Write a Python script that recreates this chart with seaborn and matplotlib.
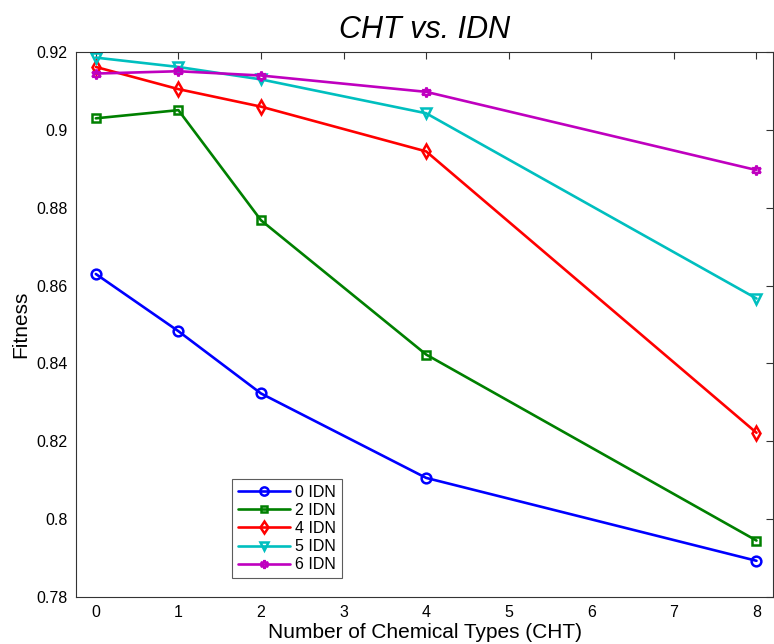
import matplotlib
matplotlib.use("Agg")
import matplotlib.pyplot as plt
import seaborn as sns

cht = [0, 1, 2, 4, 8]
idn_labels = ["0 IDN", "2 IDN", "4 IDN", "5 IDN", "6 IDN"]
fit_0 = [0.8630, 0.8483, 0.8323, 0.8106, 0.7893]
fit_2 = [0.9030, 0.9051, 0.8768, 0.8423, 0.7945]
fit_4 = [0.9162, 0.9105, 0.9060, 0.8945, 0.8222]
fit_5 = [0.9186, 0.9162, 0.9130, 0.9043, 0.8567]
fit_6 = [0.9145, 0.9151, 0.9140, 0.9098, 0.8897]

colors = [(0, 0, 1), (0, 0.5, 0), (1, 0, 0), (0, 0.75, 0.75), (0.75, 0, 0.75)]
markers = ["o", "s", "d", "v", (6, 1, 0)]
msizes = [7, 5.5, 7.5, 7.5, 7]

sns.set_style("white")
plt.rcParams["font.family"] = ["Liberation Sans", "DejaVu Sans"]
plt.rcParams["text.color"] = "black"
plt.rcParams["axes.labelcolor"] = "black"

fig = plt.figure(figsize=(7.74, 6.44), dpi=100)
ax = fig.add_axes([0.0982, 0.073, 0.9005, 0.846])

for vals, lab, c, m, ms in zip([fit_0, fit_2, fit_4, fit_5, fit_6], idn_labels, colors, markers, msizes):
    sns.lineplot(x=cht, y=vals, ax=ax, color=c, marker=m, label=lab,
                 linewidth=1.9, markersize=ms, markerfacecolor="none",
                 markeredgecolor=c, markeredgewidth=1.8)

ax.set_xlim(-0.24, 8.2)
ax.set_ylim(0.78, 0.92)
ax.set_xticks(range(0, 9))
ax.set_yticks([0.78, 0.8, 0.82, 0.84, 0.86, 0.88, 0.9, 0.92])
ax.set_yticklabels(["0.78", "0.8", "0.82", "0.84", "0.86", "0.88", "0.9", "0.92"])
ax.tick_params(direction="in", top=True, right=True, length=5, width=0.8,
               labelsize=11.5, colors="#333333", labelcolor="black", pad=6)
for s in ax.spines.values():
    s.set_color("#333333")
    s.set_linewidth(0.8)

ax.set_xlabel("Number of Chemical Types (CHT)", fontsize=15, labelpad=2)
ax.set_ylabel("Fitness", fontsize=15, labelpad=4)
ax.set_title("CHT vs. IDN", fontsize=22, style="italic", pad=10, color="black")

leg = ax.legend(loc="lower left", bbox_to_anchor=(0.224, 0.035), borderaxespad=0,
                fontsize=11.5, frameon=True, fancybox=False, handlelength=3.3,
                borderpad=0.35, labelspacing=0.2, handletextpad=0.3, markerscale=0.85)
leg.get_frame().set_edgecolor("#333333")
leg.get_frame().set_linewidth(0.8)

fig.savefig("out.png", dpi=100)
